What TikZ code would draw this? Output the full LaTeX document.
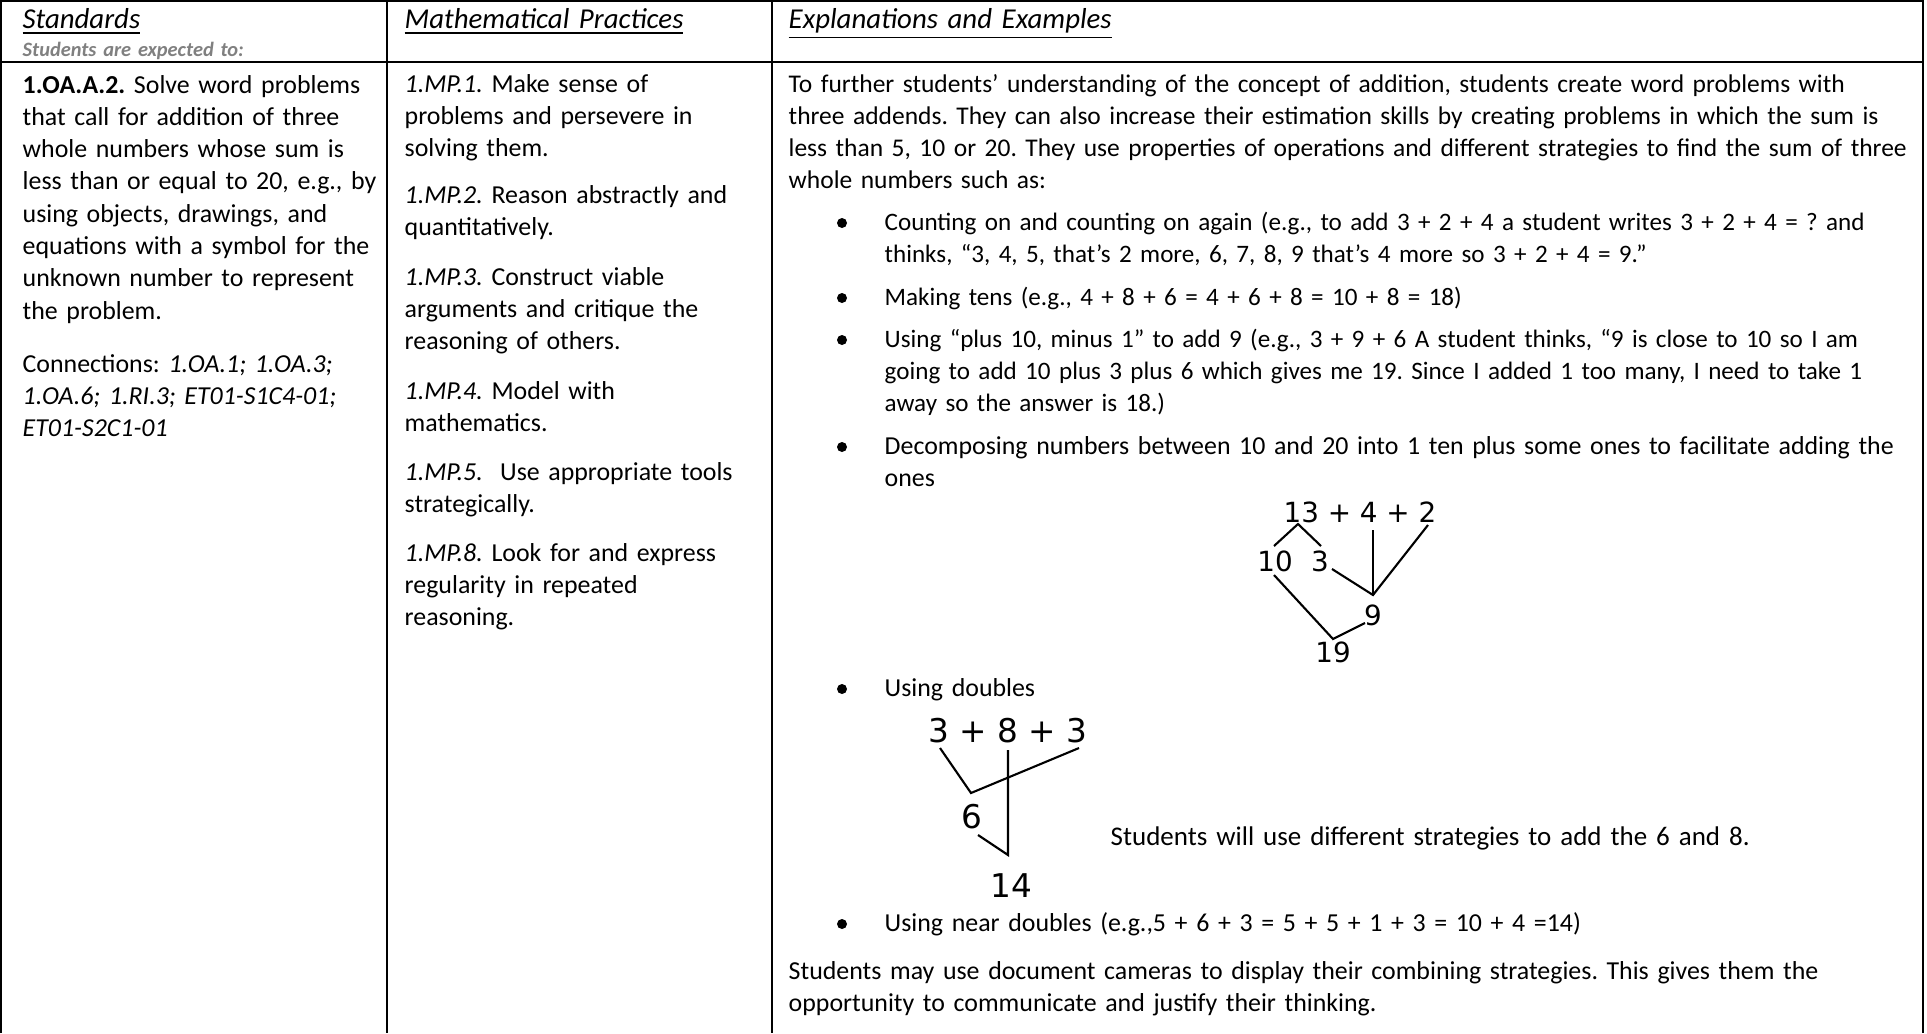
\documentclass[tikz,border=0pt]{standalone}
\usepackage{fontspec}
\setmainfont{Carlito}
\newfontfamily\treefont{DejaVu Sans}
\definecolor{subgray}{RGB}{128,128,128}
\newcommand{\bodysize}{\fontsize{7.36}{9.19}\selectfont}
\newcommand{\narrowsize}{\fontsize{7.14}{9.19}\selectfont}
\newcommand{\headsize}{\fontsize{8.2}{9.8}\selectfont}
\frenchspacing

\tikzset{
    grid line/.style={line width=0.5pt},
    cell/.style={anchor=base west, inner sep=0pt, align=left, text width=#1, font=\bodysize},
    cell/.default=11.5cm,
    head/.style={cell=6cm, font=\headsize},
    bul/.style={circle, fill, inner sep=0pt, minimum size=0.1cm},
    numsmall/.style={anchor=base, inner sep=0pt, font=\treefont\fontsize{7.9}{9}\selectfont},
    numbig/.style={anchor=base, inner sep=0pt, font=\treefont\fontsize{9.3}{11}\selectfont},
    tree line/.style={line width=0.6pt},
}

\begin{document}
\begin{tikzpicture}[x=0.01cm, y=-0.01cm]
    \useasboundingbox (0,0) rectangle (1927,1033);

    % Table frame and rules
    \draw[grid line] (1,1033) -- (1,1) -- (1923,1) -- (1923,1033);
    \draw[grid line] (1,62) -- (1923,62);
    \draw[grid line] (387,1) -- (387,1033);
    \draw[grid line] (772,1) -- (772,1033);

    % Header row
    \node[head] (hstd) at (22,28) {\underline{\textit{Standards}}};
    \node[cell=6cm, font=\fontsize{5.8}{7}\selectfont\bfseries\itshape, text=subgray] (hsub) at (22,56) {Students are expected to:};
    \node[head] (hmp) at (404,28) {\underline{\textit{Mathematical Practices}}};
    \node[head] (hex) at (788,28) {\underline{\textit{Explanations and Examples}}};

    % Standards column
    \node[cell=6cm] (std) at (22,93) {\textbf{1.OA.A.2.} Solve word problems\\
        that call for addition of three\\ whole numbers whose sum is\\
        less than or equal to 20, e.g., by\\ using objects, drawings, and\\
        equations with a symbol for the\\ unknown number to represent\\ the problem.};
    \node[cell=6cm] (conn) at (22,372) {Connections: \textit{1.OA.1; 1.OA.3;}\\
        \textit{1.OA.6; 1.RI.3; ET01-S1C4-01;}\\ \textit{ET01-S2C1-01}};

    % Mathematical practices column
    \node[cell=6cm] (mp1) at (404,92) {\textit{1.MP.1.} Make sense of\\ problems and persevere in\\ solving them.};
    \node[cell=6cm] (mp2) at (404,203) {\textit{1.MP.2.} Reason abstractly and\\ quantitatively.};
    \node[cell=6cm] (mp3) at (404,285) {\textit{1.MP.3.} Construct viable\\ arguments and critique the\\ reasoning of others.};
    \node[cell=6cm] (mp4) at (404,399) {\textit{1.MP.4.} Model with\\ mathematics.};
    \node[cell=6cm] (mp5) at (404,480) {\textit{1.MP.5.}\ \ Use appropriate tools\\ strategically.};
    \node[cell=6cm] (mp8) at (404,561) {\textit{1.MP.8.} Look for and express\\ regularity in repeated\\ reasoning.};

    % Explanations column
    \node[cell, font=\fontsize{7.25}{9.19}\selectfont] (intro) at (788,92) {To further students’ understanding of the concept of addition, students create word problems with\\
        three addends. They can also increase their estimation skills by creating problems in which the sum is\\
        less than 5, 10 or 20. They use properties of operations and different strategies to find the sum of three\\
        whole numbers such as:};

    \node[bul] (b1) at (842,223) {};
    \node[cell, font=\narrowsize] (i1) at (884,230) {Counting on and counting on again (e.g., to add 3 + 2 + 4 a student writes 3 + 2 + 4 = ? and\\
        thinks, “3, 4, 5, that’s 2 more, 6, 7, 8, 9 that’s 4 more so 3 + 2 + 4 = 9.”};
    \node[bul] (b2) at (842,298) {};
    \node[cell, font=\narrowsize] (i2) at (884,305) {Making tens (e.g., 4 + 8 + 6 = 4 + 6 + 8 = 10 + 8 = 18)};
    \node[bul] (b3) at (842,340) {};
    \node[cell, font=\narrowsize] (i3) at (884,347) {Using “plus 10, minus 1” to add 9 (e.g., 3 + 9 + 6 A student thinks, “9 is close to 10 so I am\\
        going to add 10 plus 3 plus 6 which gives me 19. Since I added 1 too many, I need to take 1\\
        away so the answer is 18.)};
    \node[bul] (b4) at (842,447) {};
    \node[cell] (i4) at (884,454) {Decomposing numbers between 10 and 20 into 1 ten plus some ones to facilitate adding the\\ ones};

    % Decomposing tree
    \node[numsmall] (sum1) at (1360,522) {13 + 4 + 2};
    \node[numsmall] (n10) at (1275,571) {10};
    \node[numsmall] (n3) at (1320,571) {3};
    \node[numsmall] (n9) at (1373,625) {9};
    \node[numsmall] (n19) at (1333,662) {19};
    \coordinate (top13) at (1298,524);
    \coordinate (top10) at (1274,546);
    \coordinate (top3) at (1321,546);
    \coordinate (from3) at (1332,569);
    \coordinate (from4) at (1373,530);
    \coordinate (from2) at (1428,525);
    \coordinate (join9) at (1373,595);
    \coordinate (from10) at (1274,575);
    \coordinate (join19) at (1333,639);
    \coordinate (to9) at (1365,623);
    \draw[tree line] (top10) -- (top13) -- (top3);
    \draw[tree line] (from3) -- (join9) -- (from2);
    \draw[tree line] (from4) -- (join9);
    \draw[tree line] (from10) -- (join19) -- (to9);

    \node[bul] (b5) at (842,689) {};
    \node[cell] (i5) at (884,696) {Using doubles};

    % Doubles tree
    \node[numbig] (sum2) at (1008,742) {3 + 8 + 3};
    \node[numbig] (n6) at (972,828) {6};
    \node[numbig] (n14) at (1011,897) {14};
    \coordinate (left3) at (940,748);
    \coordinate (join6) at (971,793);
    \coordinate (right3) at (1079,748);
    \coordinate (from8) at (1008,750);
    \coordinate (join14) at (1008,855);
    \coordinate (from6) at (978,835);
    \draw[tree line] (left3) -- (join6) -- (right3);
    \draw[tree line] (from8) -- (join14) -- (from6);
    \node[cell, font=\fontsize{7.67}{9.19}\selectfont] (note) at (1110,845) {Students will use different strategies to add the 6 and 8.};

    \node[bul] (b6) at (842,924) {};
    \node[cell] (i6) at (884,931) {Using near doubles (e.g.,5 + 6 + 3 = 5 + 5 + 1 + 3 = 10 + 4 =14)};

    \node[cell] (outro) at (788,979) {Students may use document cameras to display their combining strategies. This gives them the\\
        opportunity to communicate and justify their thinking.};
\end{tikzpicture}
\end{document}
